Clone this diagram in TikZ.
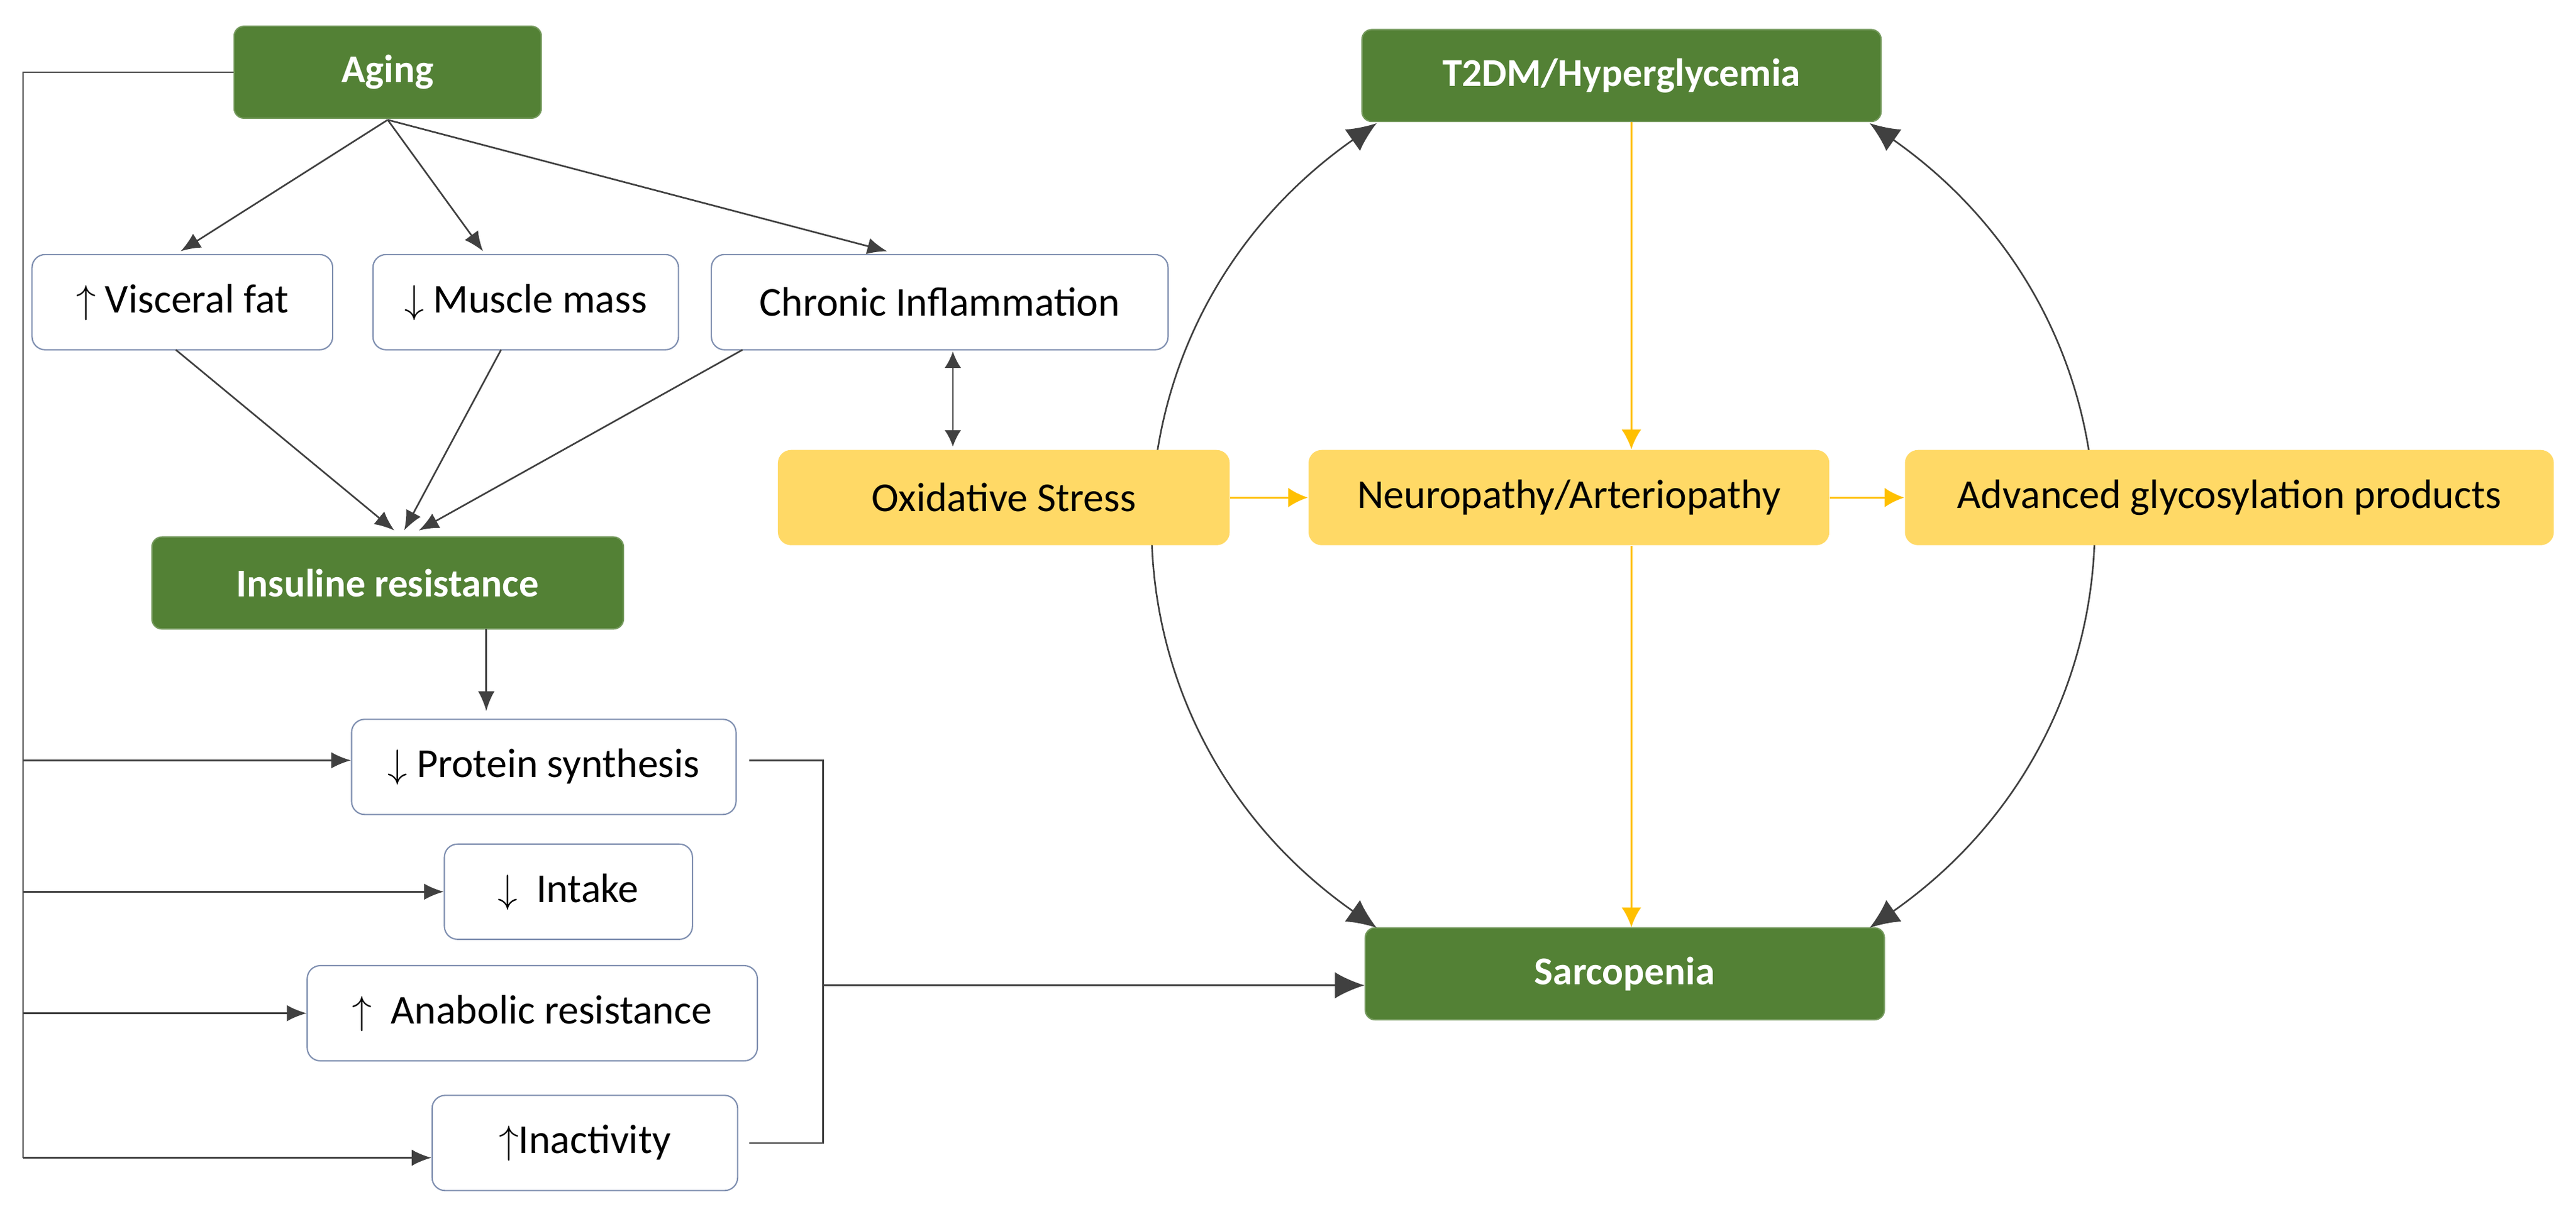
\documentclass[tikz,border=0pt]{standalone}
\usepackage{fontspec}
\setmainfont{Carlito}
\usetikzlibrary{arrows.meta}
\definecolor{grn}{HTML}{538135}
\definecolor{yel}{HTML}{FFD966}
\definecolor{ora}{HTML}{FFC000}
\definecolor{bdr}{HTML}{7F8FB0}
\begin{document}
\begin{tikzpicture}[x=0.5pt,y=-0.5pt,
  gbox/.style={fill=grn,draw=grn!80!white,rounded corners=3pt,text=white,font=\fontsize{12}{14}\selectfont\bfseries,minimum height=28pt,inner sep=0pt},
  wbox/.style={fill=white,draw=bdr,rounded corners=4pt,font=\fontsize{12.5}{15}\selectfont,minimum height=29pt,inner sep=0pt},
  ybox/.style={fill=yel,rounded corners=4pt,font=\fontsize{12.5}{15}\selectfont,minimum height=29pt,inner sep=0pt},
  ar/.style={draw=black!75,line width=0.5pt,-{Latex[length=6pt,width=5pt]}},
  br/.style={draw=black!75,line width=0.5pt,-{Latex[length=9pt,width=8pt]}},
  ya/.style={draw=ora,line width=0.6pt,-{Latex[length=6pt,width=6pt]}}]
\useasboundingbox (0,0) rectangle (1568,742);
\node[gbox,minimum width=93.5pt] (aging) at (236,44) {Aging};
\node[wbox,minimum width=91.5pt] (vf) at (111,184) {$\uparrow$ Visceral fat};
\node[wbox,minimum width=93pt] (mm) at (320,184) {$\downarrow$ Muscle mass};
\node[wbox,minimum width=139pt] (ci) at (572,184) {Chronic Inflammation};
\node[gbox,minimum width=143.5pt] (ir) at (236,355) {Insuline resistance};
\node[wbox,minimum width=117pt] (ps) at (331,467) {$\downarrow$ Protein synthesis};
\node[wbox,minimum width=75.5pt] (in) at (346,543) {$\downarrow$\ \ Intake};
\node[wbox,minimum width=137pt] (an) at (324,617) {$\uparrow$\ \ Anabolic resistance};
\node[wbox,minimum width=93pt] (ia) at (356,696) {$\uparrow$Inactivity};
\node[gbox,minimum width=158pt] (t2) at (987,46) {T2DM/Hyperglycemia};
\node[gbox,minimum width=158pt] (sa) at (989,593) {Sarcopenia};
\draw[draw=black!75,line width=0.5pt,{Latex[length=9pt,width=8pt]}-{Latex[length=9pt,width=8pt]}] (838,75) .. controls (660,200) and (660,440) .. (838,565);
\draw[draw=black!75,line width=0.5pt,{Latex[length=9pt,width=8pt]}-{Latex[length=9pt,width=8pt]}] (1138,75) .. controls (1316,200) and (1316,440) .. (1138,565);
\node[ybox,minimum width=137.5pt] (os) at (611,303) {Oxidative Stress};
\node[ybox,minimum width=158.5pt] (np) at (955,303) {Neuropathy/Arteriopathy};
\node[ybox,minimum width=197.5pt] (ag) at (1357,303) {Advanced glycosylation products};
\coordinate (a0) at (236,73);
\draw[ar] (a0) -- (110,153);
\draw[ar] (a0) -- (294,153);
\draw[ar] (a0) -- (540,153);
\draw[ar] (107,213) -- (240,323);
\draw[ar] (305,213) -- (246,323);
\draw[ar] (452,213) -- (255,323);
\draw[ar] (296,383) -- (296,433);
\draw[draw=black!75,line width=0.5pt,{Latex[length=5pt,width=5pt]}-{Latex[length=5pt,width=5pt]}] (580,214) -- (580,272);
\draw[draw=black!75,line width=0.5pt] (aging.west) -- (14,44) -- (14,705);
\draw[ar] (14,463) -- (ps.west |- 0,463);
\draw[ar] (14,543) -- (in.west);
\draw[ar] (14,617) -- (an.west);
\draw[ar] (14,705) -- (ia.west |- 0,705);
\draw[draw=black!75,line width=0.5pt] (456,463) -- (501,463) -- (501,696) -- (456,696);
\draw[br] (501,600) -- (sa.west |- 0,600);
\draw[ya] (t2.south -| 993,0) -- (np.north -| 993,0);
\draw[ya] (np.south -| 993,0) -- (sa.north -| 993,0);
\draw[ya] (os) -- (np);
\draw[ya] (np) -- (ag);
\end{tikzpicture}
\end{document}
